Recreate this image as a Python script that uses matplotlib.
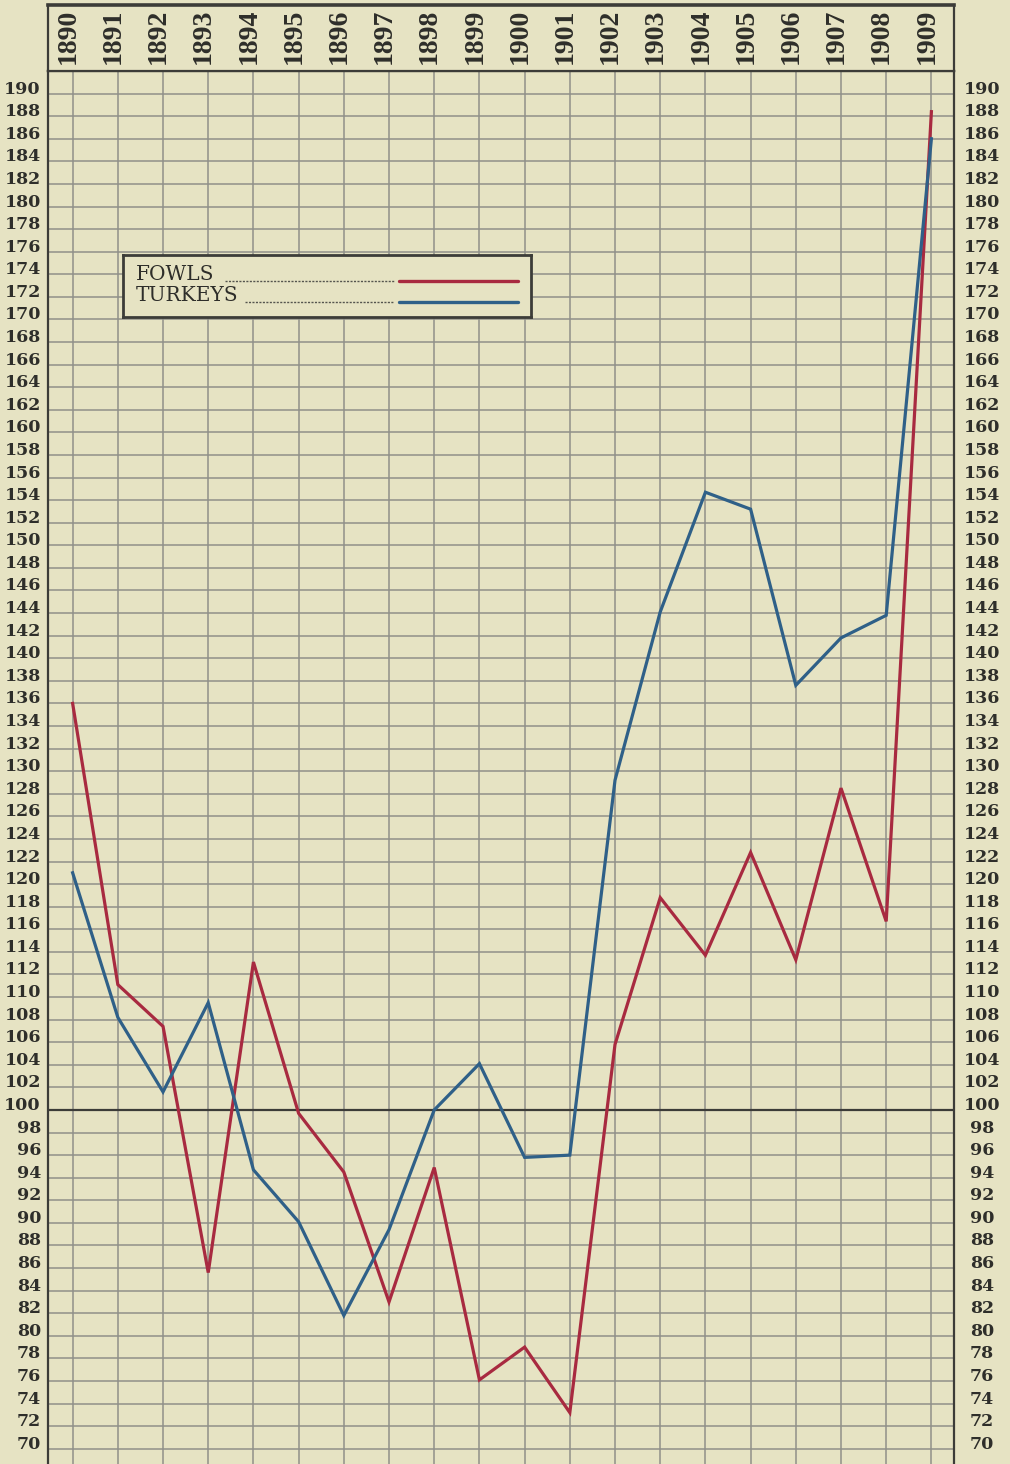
import matplotlib
matplotlib.use("Agg")
import matplotlib.pyplot as plt
import matplotlib.transforms as mtransforms

years = list(range(1890, 1910))
fowls = [136.0, 111.1, 107.4, 85.6, 113.1, 99.7, 94.5, 83.0, 94.9, 76.1,
         79.0, 73.2, 105.8, 118.8, 113.7, 122.8, 113.3, 128.5, 116.7, 188.4]
turkeys = [121.0, 108.2, 101.6, 109.5, 94.7, 90.1, 81.8, 89.4, 100.0, 104.1,
           95.8, 96.0, 129.2, 144.1, 154.7, 153.2, 137.6, 141.8, 143.8, 186.0]
y_ticks = list(range(70, 191, 2))

PAPER = "#e6e3c3"
GRID = "#909089"
INK = "#3c3c38"
RED = "#a82a40"
BLUE = "#2f6088"

W, H = 1010, 1464
fig = plt.figure(figsize=(W / 100, H / 100), dpi=100, facecolor=PAPER)

# main grid area
ax = fig.add_axes([48 / W, 0, 906 / W, 1393 / H])
ax.set_facecolor(PAPER)
ax.set_xlim(1889.455, 1909.5)
ax.set_ylim(68.65, 192.0)
ax.set_xticks([])
ax.set_yticks([])
for s in ["left", "right"]:
    ax.spines[s].set_color(INK)
    ax.spines[s].set_linewidth(1.6)
ax.spines["bottom"].set_visible(False)
ax.spines["top"].set_color(INK)
ax.spines["top"].set_linewidth(1.6)

for yr in years:
    ax.axvline(yr, color=GRID, lw=1.1, zorder=1)
for v in y_ticks:
    if v == 100:
        ax.axhline(v, color=INK, lw=1.6, zorder=1.5)
    else:
        ax.axhline(v, color=GRID, lw=1.1, zorder=1)

ax.plot(years, fowls, color=RED, lw=2.3, zorder=3, solid_joinstyle="miter")
ax.plot(years, turkeys, color=BLUE, lw=2.3, zorder=3, solid_joinstyle="miter")

# y labels on both sides
tick_font = dict(family="DejaVu Serif", weight="bold", size=12.5, color="#2e2e2a")
side_tr = mtransforms.blended_transform_factory(fig.transFigure, ax.transData)
for v in y_ticks:
    ax.text(41 / W, v, str(v), transform=side_tr, ha="right", va="baseline", **tick_font)
    ax.text(982 / W, v, str(v), transform=side_tr, ha="center", va="baseline", **tick_font)

# header with the years
hx = fig.add_axes([48 / W, 1393 / H, 906 / W, 66 / H])
hx.set_facecolor(PAPER)
hx.set_xlim(ax.get_xlim())
hx.set_ylim(0, 1)
hx.set_xticks([])
hx.set_yticks([])
for s in hx.spines.values():
    s.set_color(INK)
    s.set_linewidth(1.6)
hx.spines["top"].set_linewidth(2.6)
for yr in years:
    hx.text(yr - 0.1, 0.52, str(yr), rotation=90, ha="center", va="center",
            family="Liberation Serif", weight="bold", size=20, color="#2e2e2a")

# legend box
lg = fig.add_axes([123 / W, 1 - 317 / H, 408 / W, 62 / H])
lg.set_facecolor(PAPER)
lg.set_xlim(0, 1)
lg.set_ylim(0, 1)
lg.set_xticks([])
lg.set_yticks([])
for s in lg.spines.values():
    s.set_color(INK)
    s.set_linewidth(2.0)
leg_font = dict(family="DejaVu Serif", size=14.5, color="#2e2e2a")
lg.text(0.032, 0.60, "FOWLS", ha="left", va="baseline", **leg_font)
lg.text(0.032, 0.26, "TURKEYS", ha="left", va="baseline", **leg_font)
lg.plot([0.25, 0.663], [0.58, 0.58], color="#55554e", lw=1.0, ls=(0, (1.5, 1)))
lg.plot([0.30, 0.663], [0.25, 0.25], color="#55554e", lw=1.0, ls=(0, (1.5, 1)))
lg.plot([0.677, 0.968], [0.58, 0.58], color=RED, lw=2.4, solid_capstyle="round")
lg.plot([0.677, 0.968], [0.25, 0.25], color=BLUE, lw=2.4, solid_capstyle="round")

fig.savefig("out.png", dpi=100, facecolor=PAPER)
